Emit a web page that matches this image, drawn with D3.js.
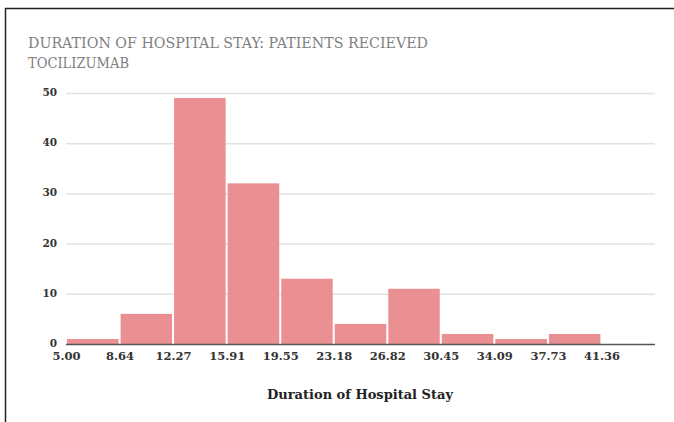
<!DOCTYPE html>
<html>
<head>
<meta charset="utf-8">
<script src="https://cdn.jsdelivr.net/npm/d3@7"></script>
<style>
  html, body { margin: 0; padding: 0; background: #fff; }
  svg { display: block; }
</style>
</head>
<body>
<svg id="chart" width="674" height="422"></svg>
<script>
// Histogram bins: lower edges, upper edges and patient counts
const binStarts = [5.00, 8.64, 12.27, 15.91, 19.55, 23.18, 26.82, 30.45, 34.09, 37.73, 41.36];
const binEnds   = [8.64, 12.27, 15.91, 19.55, 23.18, 26.82, 30.45, 34.09, 37.73, 41.36, 45.00];
const counts    = [1, 6, 49, 32, 13, 4, 11, 2, 1, 2, 0];
const xTickLabels = ["5.00", "8.64", "12.27", "15.91", "19.55", "23.18", "26.82", "30.45", "34.09", "37.73", "41.36"];
const yTicks = [0, 10, 20, 30, 40, 50];
const titleLines = ["DURATION OF HOSPITAL STAY: PATIENTS RECIEVED", "TOCILIZUMAB"];
const xAxisTitle = "Duration of Hospital Stay";

const svg = d3.select("#chart");
const serif = "'DejaVu Serif', 'Liberation Serif', serif";

// Outer frame
svg.append("rect")
  .attr("x", 5.5).attr("y", 8.5)
  .attr("width", 700).attr("height", 430)
  .attr("fill", "none").attr("stroke", "#222").attr("stroke-width", 1.5);

const plot = { left: 66, right: 655, top: 93, bottom: 344 };

const x = d3.scaleLinear().domain([5, 45]).range([plot.left, plot.right]);
const y = d3.scaleLinear().domain([0, 50]).range([plot.bottom, plot.top]);

// Title
const titleWidths = [400, 101];
svg.append("g").selectAll("text").data(titleLines).join("text")
  .attr("x", 28).attr("y", (d, i) => 48 + i * 20)
  .attr("font-family", serif).attr("font-size", 15.5)
  .attr("fill", "#808080")
  .attr("textLength", (d, i) => titleWidths[i])
  .attr("lengthAdjust", "spacingAndGlyphs")
  .text(d => d);

// Horizontal gridlines
svg.append("g").selectAll("line").data(yTicks.filter(d => d > 0)).join("line")
  .attr("x1", plot.left).attr("x2", plot.right)
  .attr("y1", d => y(d) + 0.5).attr("y2", d => y(d) + 0.5)
  .attr("stroke", "#e2e2e2").attr("stroke-width", 1.5);

// Y tick labels
svg.append("g").selectAll("text").data(yTicks).join("text")
  .attr("x", 57).attr("y", d => y(d) + 3)
  .attr("text-anchor", "end")
  .attr("font-family", serif).attr("font-size", 10.5).attr("font-weight", "bold")
  .attr("fill", "#333")
  .text(d => d);

// Bars
const bins = binStarts.map((s, i) => ({ x0: s, x1: binEnds[i], n: counts[i] }));
svg.append("g").selectAll("rect").data(bins.filter(d => d.n > 0)).join("rect")
  .attr("x", d => x(d.x0) + 1)
  .attr("width", d => x(d.x1) - x(d.x0) - 2)
  .attr("y", d => y(d.n))
  .attr("height", d => y(0) - y(d.n))
  .attr("fill", "#ea9093");

// X axis baseline
svg.append("line")
  .attr("x1", plot.left).attr("x2", plot.right)
  .attr("y1", plot.bottom + 0.5).attr("y2", plot.bottom + 0.5)
  .attr("stroke", "#555").attr("stroke-width", 1.5);

// X tick labels at bin edges
const xAxis = d3.axisBottom(x)
  .tickValues(binStarts)
  .tickFormat((d, i) => xTickLabels[i])
  .tickSize(0).tickPadding(8);
const gx = svg.append("g").attr("transform", `translate(0,${plot.bottom})`).call(xAxis);
gx.select(".domain").remove();
gx.selectAll("text")
  .attr("font-family", serif).attr("font-size", 11.5).attr("font-weight", "bold")
  .attr("fill", "#333");

// X axis title
svg.append("text")
  .attr("x", 360).attr("y", 399)
  .attr("text-anchor", "middle")
  .attr("font-family", serif).attr("font-size", 13).attr("font-weight", "bold")
  .attr("fill", "#222")
  .text(xAxisTitle);
</script>
</body>
</html>
